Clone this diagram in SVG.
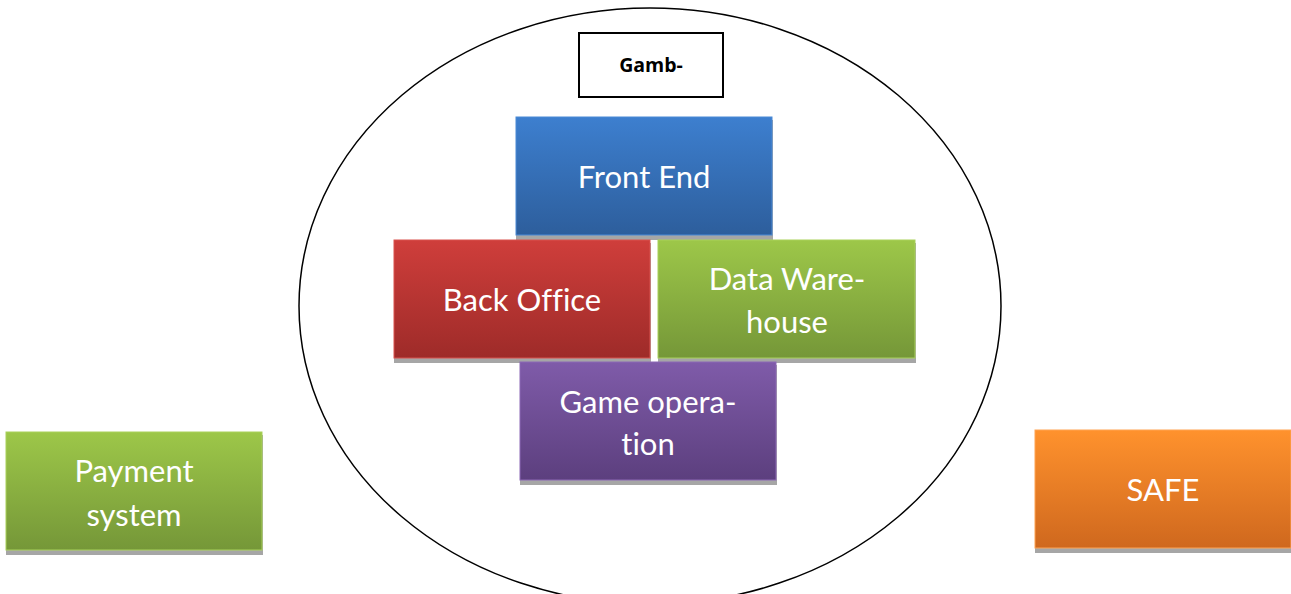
<svg xmlns="http://www.w3.org/2000/svg" width="1291" height="594" viewBox="0 0 1291 594">
<style>
.shadow{fill:#a6a6a6}
.lbl{font-family:Lato,"Open Sans",sans-serif;font-size:31px;fill:#fff;text-anchor:middle;font-variant-ligatures:none;font-feature-settings:"liga" 0}
.title{font-family:"Open Sans","Liberation Sans",sans-serif;font-size:19.5px;font-weight:bold;fill:#000;text-anchor:middle}
</style>
<defs>
<linearGradient id="gBlue" x1="0" y1="0" x2="0" y2="1"><stop offset="0" stop-color="#3d7fcf"/><stop offset="1" stop-color="#2d5e9c"/></linearGradient>
<linearGradient id="gRed" x1="0" y1="0" x2="0" y2="1"><stop offset="0" stop-color="#cf3e3b"/><stop offset="1" stop-color="#9e2b29"/></linearGradient>
<linearGradient id="gGreen" x1="0" y1="0" x2="0" y2="1"><stop offset="0" stop-color="#9dc749"/><stop offset="1" stop-color="#759738"/></linearGradient>
<linearGradient id="gPurple" x1="0" y1="0" x2="0" y2="1"><stop offset="0" stop-color="#7f5ba9"/><stop offset="1" stop-color="#5c3f7e"/></linearGradient>
<linearGradient id="gOrange" x1="0" y1="0" x2="0" y2="1"><stop offset="0" stop-color="#ff922d"/><stop offset="1" stop-color="#cf681e"/></linearGradient>
</defs>
<rect width="1291" height="594" fill="#fff"/>
<g id="boundary">
<ellipse cx="650" cy="306" rx="351" ry="298" fill="none" stroke="#000" stroke-width="1.5"/>
</g>
<g id="title">
<rect x="579" y="33" width="144" height="64" fill="#fff" stroke="#000" stroke-width="2"/>
<text class="title" x="651" y="72">Gamb-</text>
</g>
<g id="front-end">
<rect class="shadow" x="516" y="120" width="257" height="120"/>
<rect x="516" y="117" width="256" height="118" fill="url(#gBlue)" stroke="#4a8ad6" stroke-width="1"/>
<text class="lbl" x="644" y="188">Front End</text>
</g>
<g id="back-office">
<rect class="shadow" x="394" y="243" width="257" height="120"/>
<rect x="394" y="240" width="256" height="118" fill="url(#gRed)" stroke="#d9534f" stroke-width="1"/>
<text class="lbl" x="522" y="311">Back Office</text>
</g>
<g id="data-warehouse">
<rect class="shadow" x="658" y="243" width="258" height="120"/>
<rect x="658" y="240" width="257" height="118" fill="url(#gGreen)" stroke="#a9d15a" stroke-width="1"/>
<text class="lbl" x="787" y="290">Data Ware-</text>
<text class="lbl" x="787" y="333">house</text>
</g>
<g id="game-operation">
<rect class="shadow" x="520" y="365" width="257" height="120"/>
<rect x="520" y="362" width="256" height="118" fill="url(#gPurple)" stroke="#8c68b5" stroke-width="1"/>
<text class="lbl" x="648" y="413">Game opera-</text>
<text class="lbl" x="648" y="455">tion</text>
</g>
<g id="payment-system">
<rect class="shadow" x="6" y="435" width="257" height="120"/>
<rect x="6" y="432" width="256" height="118" fill="url(#gGreen)" stroke="#a9d15a" stroke-width="1"/>
<text class="lbl" x="134" y="482">Payment</text>
<text class="lbl" x="134" y="526">system</text>
</g>
<g id="safe">
<rect class="shadow" x="1035" y="433" width="256" height="120"/>
<rect x="1035" y="430" width="256" height="118" fill="url(#gOrange)" stroke="#ffa352" stroke-width="1"/>
<text class="lbl" x="1163" y="501">SAFE</text>
</g>
<g id="connectors"></g>
</svg>
